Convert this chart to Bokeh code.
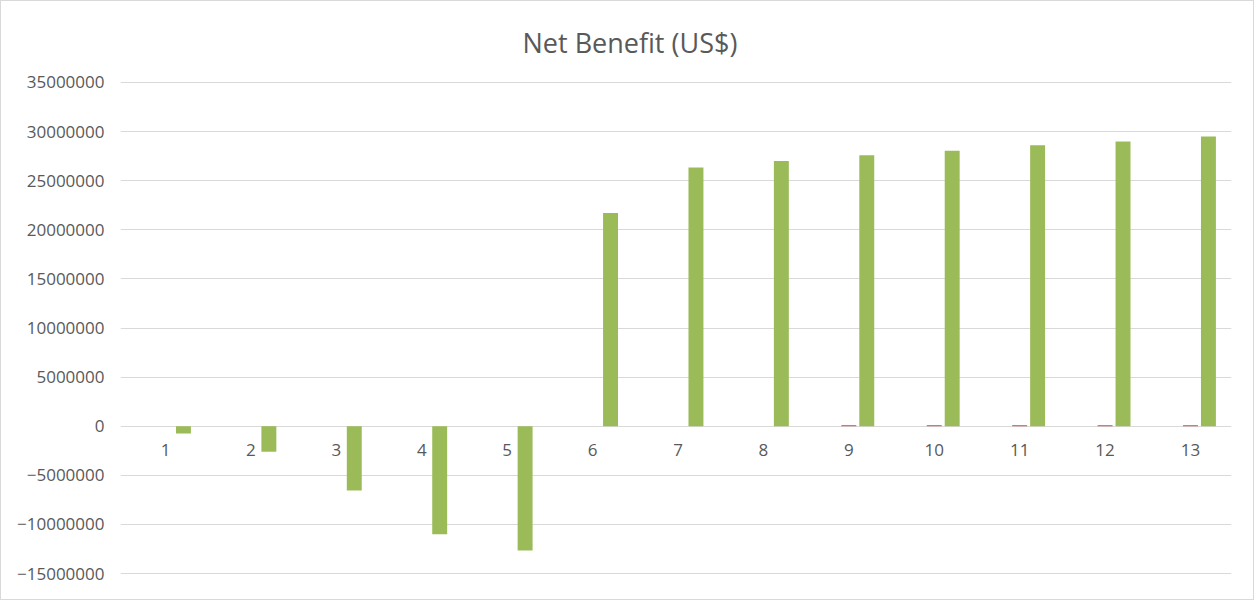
from bokeh.plotting import figure
from bokeh.models import Range1d, ColumnDataSource, FixedTicker
from bokeh.core.properties import value
from bokeh.embed import file_html
from bokeh.resources import INLINE

title_text = "Net Benefit (US$)"
categories = [str(i) for i in range(1, 14)]
series_blue = [0, 0, 0, 0, 0, 0, 0, 0, 0, 0, 0, 0, 0]
series_red = [0, 0, 0, 0, 0, 0, 0, 0, 100000, 100000, 100000, 100000, 100000]
series_green = [-750000, -2600000, -6550000, -11000000, -12650000, 21700000,
                26350000, 27000000, 27600000, 28050000, 28600000, 29000000, 29500000]
y_ticks = list(range(-15000000, 35000001, 5000000))

xs = list(range(1, 14))
FONT = "Open Sans"
GRAY = "#595959"

p = figure(width=1254, height=600, output_backend="svg", toolbar_location=None,
           x_range=Range1d(0.473, 13.48), y_range=Range1d(-15100000, 35100000))
p.styles = {"border": "1px solid #D9D9D9"}
p.title.text = title_text
p.title.align = "left"
p.title.offset = 402
p.title.text_font = FONT
p.title.text_font_size = "27px"
p.title.text_font_style = "normal"
p.title.text_color = GRAY
p.title.vertical_align = "top"
p.title.standoff = 38

p.outline_line_color = None
p.border_fill_color = "white"
p.background_fill_color = "white"

src = ColumnDataSource(dict(x=xs, lab=categories))
p.vbar(x=[x - 0.21 for x in xs], top=series_blue, bottom=0, width=0.175,
       fill_color="#4F81BD", line_color=None)
p.vbar(x=xs, top=series_red, bottom=0, width=0.175, fill_color="#C0504D", line_color=None)
p.vbar(x=[x + 0.21 for x in xs], top=series_green, bottom=0, width=0.175,
       fill_color="#9BBB59", line_color=None)

p.text(x="x", y=0, text="lab", source=src, text_font=value(FONT), text_font_size="17px",
       text_color=GRAY, text_align="center", text_baseline="top", y_offset=18)

p.xaxis.visible = False
p.yaxis.ticker = FixedTicker(ticks=y_ticks)
p.yaxis.formatter.use_scientific = False
p.yaxis.axis_line_color = None
p.yaxis.major_tick_line_color = None
p.yaxis.minor_tick_line_color = None
p.yaxis.major_label_text_font = FONT
p.yaxis.major_label_text_font_size = "17px"
p.yaxis.major_label_text_color = GRAY
p.yaxis.major_label_standoff = 10

p.xgrid.visible = False
p.ygrid.ticker = FixedTicker(ticks=y_ticks)
p.ygrid.grid_line_color = "#D9D9D9"
p.ygrid.grid_line_width = 1

p.min_border_left = 119
p.min_border_right = 24
p.min_border_top = 80
p.min_border_bottom = 27

open("out.html", "w").write(file_html(p, INLINE))
